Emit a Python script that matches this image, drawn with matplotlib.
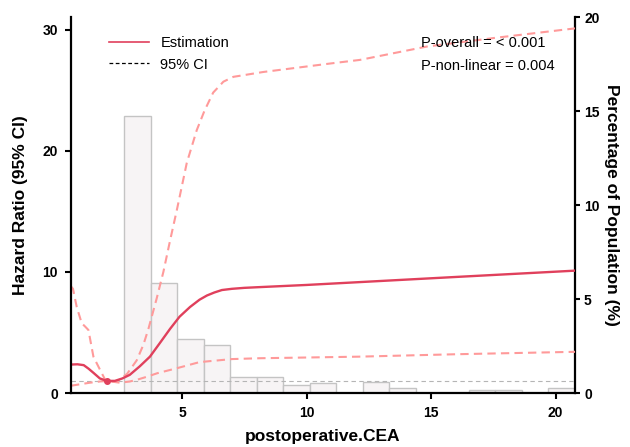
import numpy as np
import matplotlib.pyplot as plt
from matplotlib.lines import Line2D

plt.rcParams['font.family'] = ['Liberation Sans', 'DejaVu Sans']

# spline estimate (HR)
est_x = [0.54, 0.8, 1.05, 1.25, 1.45, 1.7, 1.98, 2.3, 2.6, 2.9, 3.3, 3.71, 4.1, 4.52,
         4.9, 5.32, 5.7, 6.0, 6.3, 6.6, 7.0, 7.5, 8.0, 10.0, 13.0, 16.0, 20.78]
est_y = [2.35, 2.37, 2.3, 2.0, 1.65, 1.2, 1.0, 1.0, 1.2, 1.5, 2.2, 3.0, 4.1, 5.3,
         6.3, 7.1, 7.7, 8.05, 8.3, 8.5, 8.6, 8.68, 8.73, 8.92, 9.25, 9.58, 10.1]

up_x = [0.54, 0.62, 0.77, 0.97, 1.1, 1.24, 1.44, 1.71, 1.91, 1.98, 2.3, 2.5, 2.8, 3.18,
        3.45, 3.65, 3.98, 4.25, 4.52, 4.79, 5.19, 5.59, 5.9, 6.25, 6.66, 7.06, 8.26,
        10.95, 12.15, 14.83, 17.5, 20.78]
up_y = [8.8, 8.6, 7.1, 5.76, 5.5, 5.2, 3.0, 1.9, 1.1, 1.0, 0.92, 1.1, 1.6, 2.7,
        4.0, 5.3, 7.8, 10.0, 12.6, 15.1, 19.0, 21.7, 23.3, 24.8, 25.7, 26.1, 26.5,
        27.2, 27.5, 28.6, 29.3, 30.1]

lo_x = [0.54, 0.9, 1.3, 1.7, 1.98, 2.5, 2.9, 3.2, 3.6, 4.0, 4.8, 5.7, 7.0, 8.1,
        10.0, 12.1, 16.0, 20.78]
lo_y = [0.6, 0.72, 0.85, 0.95, 1.0, 0.85, 0.95, 1.1, 1.35, 1.63, 2.05, 2.55, 2.8, 2.87,
        2.93, 3.0, 3.2, 3.4]

ref_x = 1.98

# histogram of postoperative CEA (percentage of population)
bin_edges = np.linspace(0.55, 20.78, 20)
pct = [0, 0, 14.77, 5.85, 2.86, 2.54, 0.84, 0.84, 0.41, 0.55, 0, 0.59, 0.27,
       0, 0, 0.14, 0.14, 0, 0.27]

red = '#E0405C'
pink = '#FF9A9A'

fig = plt.figure(figsize=(6.3, 4.47), dpi=100)
ax = fig.add_axes([0.1127, 0.1208, 0.8, 0.8401])
ax2 = ax.twinx()

ax2.bar(bin_edges[:-1], pct, width=np.diff(bin_edges), align='edge',
        facecolor='#f7f4f5', edgecolor='#c4c4c4', linewidth=1.0)
ax2.set_ylim(0, 20)

ax.set_zorder(ax2.get_zorder() + 1)
ax.patch.set_visible(False)

ax.axhline(1, color='#b5b5b5', lw=0.8, ls=(0, (4, 3)))
ax.plot(up_x, up_y, color=pink, lw=1.5, ls=(0, (4, 2.5)))
ax.plot(lo_x, lo_y, color=pink, lw=1.5, ls=(0, (4, 2.5)))
ax.plot(est_x, est_y, color=red, lw=1.7)
ax.plot([ref_x], [1], 'o', color=red, ms=4)

ax.set_xlim(0.54, 20.78)
ax.set_ylim(0, 31)
ax.set_xticks([5, 10, 15, 20])
ax.set_yticks([0, 10, 20, 30])
ax2.set_yticks([0, 5, 10, 15, 20])

for s in ['top', 'right']:
    ax.spines[s].set_visible(False)
for s in ['top', 'left', 'bottom']:
    ax2.spines[s].set_visible(False)
for s in ['left', 'bottom']:
    ax.spines[s].set_linewidth(1.6)
ax2.spines['right'].set_linewidth(1.6)

ax.tick_params(length=4.5, width=1.5, labelsize=10, pad=5)
ax2.tick_params(length=3.5, width=1.5, labelsize=10, pad=3)
for lab in ax.get_xticklabels() + ax.get_yticklabels() + ax2.get_yticklabels():
    lab.set_fontweight('bold')

ax.set_xlabel('postoperative.CEA', fontsize=12.5, fontweight='bold', labelpad=6)
ax.set_ylabel('Hazard Ratio (95% CI)', fontsize=12.5, fontweight='bold', labelpad=10)
fig.text(612 / 630, 1 - 205 / 447, 'Percentage of Population (%)', fontsize=12.5,
         fontweight='bold', rotation=270, ha='center', va='center')

handles = [Line2D([], [], color=red, lw=1.2),
           Line2D([], [], color='black', lw=0.9, ls=(0, (3, 2)))]
ax.legend(handles, ['Estimation', '95% CI'], loc='upper left',
          bbox_to_anchor=(0.05, 0.985), frameon=False, fontsize=10.5,
          handlelength=2.7, handletextpad=0.8, labelspacing=0.5)

ax.text(0.694, 0.932, 'P-overall = < 0.001', transform=ax.transAxes,
        fontsize=10.5, va='center')
ax.text(0.694, 0.871, 'P-non-linear = 0.004', transform=ax.transAxes,
        fontsize=10.5, va='center')

fig.savefig('out.png', dpi=100)
